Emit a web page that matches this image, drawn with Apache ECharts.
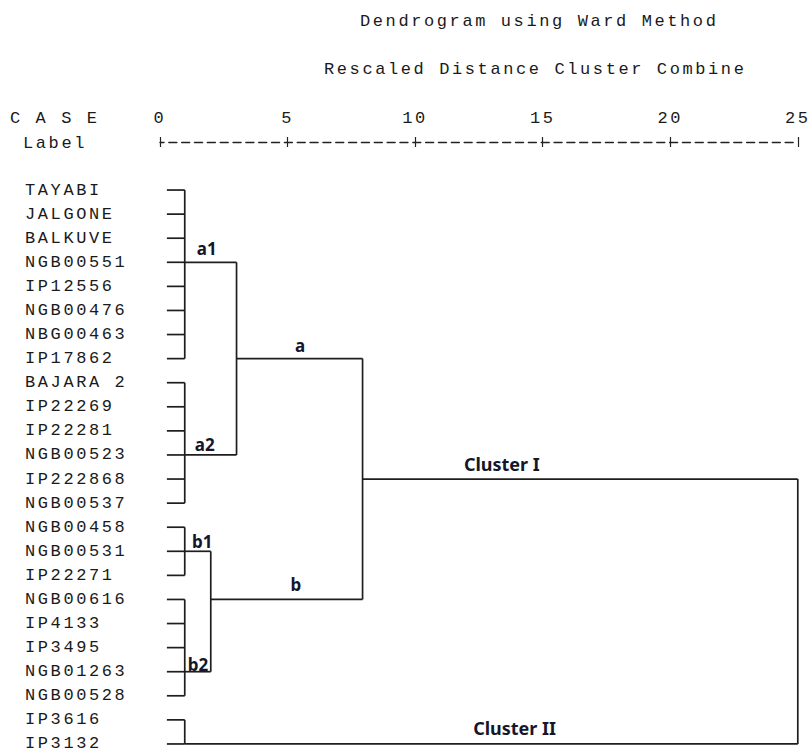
<!DOCTYPE html>
<html><head><meta charset="utf-8">
<script src="https://cdn.jsdelivr.net/npm/echarts@6/dist/echarts.min.js"></script>
<style>
html,body{margin:0;padding:0;background:#fff;}
#chart{width:811px;height:756px;}
#chart text[style*="Liberation Mono"], #chart text[font-family*="Liberation Mono"]{letter-spacing:2.6px;}
</style></head>
<body><div id="chart"></div>
<script>
// ---- data ----
const cases = ['TAYABI','JALGONE','BALKUVE','NGB00551','IP12556','NGB00476','NBG00463','IP17862',
  'BAJARA 2','IP22269','IP22281','NGB00523','IP222868','NGB00537',
  'NGB00458','NGB00531','IP22271','NGB00616','IP4133','IP3495','NGB01263','NGB00528',
  'IP3616','IP3132'];
const xTickValues = [0, 5, 10, 15, 20, 25];
const leafDistance = 0.27;
const clusterNames    = ['a1', 'a2', 'b1', 'b2', 'II', 'a', 'b', 'I', 'root'];
const clusterDistance = [0.97, 0.97, 0.97, 0.97, 0.97, 3.0, 1.99, 7.94, 25];
const clusterRow      = [3, 11, 15, 20, 23, 7, 17, 12, null];
const clusterChildren = [
  [0,1,2,3,4,5,6,7],
  [8,9,10,11,12,13],
  [14,15,16],
  [17,18,19,20,21],
  [22,23],
  ['a1','a2'],
  ['b1','b2'],
  ['a','b'],
  ['I','II']
];
const annotationText = ['a1','a2','a','b1','b2','b','Cluster I','Cluster II'];

// ---- layout (annotation anchors: distance, row, align, pixel offset, font size) ----
const annotationLayout = [
  [1.44, 3, 'left', -14, 17],
  [1.36, 11, 'left', -10, 17],
  [5.49, 7, 'center', -13, 17],
  [1.25, 15, 'left', -10, 17],
  [1.09, 20, 'left', -7, 17],
  [5.33, 17, 'center', -15, 17],
  [13.4, 12, 'center', -15, 18],
  [13.9, 23, 'center', -16, 18]
];

function nodeInfo(c) {
  if (typeof c === 'number') return { d: leafDistance, row: c };
  const k = clusterNames.indexOf(c);
  return { d: clusterDistance[k], row: clusterRow[k] };
}
const segments = [];
clusterChildren.forEach(function (children, k) {
  const D = clusterDistance[k];
  const infos = children.map(nodeInfo);
  const rows = infos.map(function (i) { return i.row; });
  segments.push([D, Math.min.apply(null, rows), D, Math.max.apply(null, rows)]);
  infos.forEach(function (i) { segments.push([i.d, i.row, D, i.row]); });
});
const annotations = annotationText.map(function (t, i) {
  return [annotationLayout[i][0], annotationLayout[i][1], i];
});

const MONO = 'Liberation Mono';
const FS = 17;
const TXT = '#1a1a1a';
const LINE = '#1e1e1e';

const chart = echarts.init(document.getElementById('chart'), null, { renderer: 'svg' });
chart.setOption({
  animation: false,
  backgroundColor: '#fff',
  title: [
    { text: 'Dendrogram using Ward Method', left: 360, top: 11, padding: 0,
      textStyle: { fontFamily: MONO, fontSize: FS, fontWeight: 'normal', color: TXT, lineHeight: 20 } },
    { text: 'Rescaled Distance Cluster Combine', left: 324, top: 59, padding: 0,
      textStyle: { fontFamily: MONO, fontSize: FS, fontWeight: 'normal', color: TXT, lineHeight: 20 } }
  ],
  graphic: [
    { type: 'text', left: 10, top: 110, style: { text: 'C A S E', fontFamily: MONO, fontSize: FS, fill: TXT } },
    { type: 'text', left: 23, top: 135, style: { text: 'Label', fontFamily: MONO, fontSize: FS, fill: TXT } }
  ],
  grid: { left: 160, right: 9, top: 178, height: 582, containLabel: false },
  xAxis: [
    { type: 'value', position: 'top', offset: 36, min: xTickValues[0], max: xTickValues[xTickValues.length - 1],
      interval: xTickValues[1] - xTickValues[0],
      axisLine: { show: true, lineStyle: { color: '#222', width: 1.4, type: [8, 4.84], dashOffset: 4 } },
      axisTick: { show: true, length: 5, lineStyle: { color: '#222', width: 1.2 } },
      axisLabel: { margin: 24, verticalAlign: 'middle', fontFamily: MONO, fontSize: FS, color: TXT },
      splitLine: { show: false } },
    { type: 'value', position: 'top', offset: 36, min: xTickValues[0], max: xTickValues[xTickValues.length - 1],
      interval: xTickValues[1] - xTickValues[0],
      axisLine: { show: false },
      axisTick: { show: true, inside: true, length: 5, lineStyle: { color: '#222', width: 1.2 } },
      axisLabel: { show: false }, splitLine: { show: false } }
  ],
  yAxis: {
    type: 'category', data: cases, inverse: true,
    axisLine: { show: false }, axisTick: { show: false }, splitLine: { show: false },
    axisLabel: { align: 'left', margin: 135, fontFamily: MONO, fontSize: FS, color: TXT }
  },
  series: [
    { type: 'custom', xAxisIndex: 0, data: segments, silent: true,
      renderItem: function (params, api) {
        const p1 = api.coord([api.value(0), api.value(1)]);
        const p2 = api.coord([api.value(2), api.value(3)]);
        return { type: 'line', shape: { x1: p1[0], y1: p1[1], x2: p2[0], y2: p2[1] },
          style: { stroke: LINE, lineWidth: 1.7 } };
      },
      encode: { x: [0, 2], y: [1, 3] }
    },
    { type: 'custom', xAxisIndex: 0, data: annotations, silent: true,
      renderItem: function (params, api) {
        const i = api.value(2);
        const lay = annotationLayout[i];
        const p = api.coord([api.value(0), api.value(1)]);
        return { type: 'text', x: p[0], y: p[1] + lay[3],
          style: { text: annotationText[i], align: lay[2], verticalAlign: 'middle',
            fontFamily: 'Noto Sans', fontWeight: 'bold', fontSize: lay[4], fill: '#16162a' } };
      },
      encode: { x: 0, y: 1 }
    }
  ]
});
</script>
</body></html>
